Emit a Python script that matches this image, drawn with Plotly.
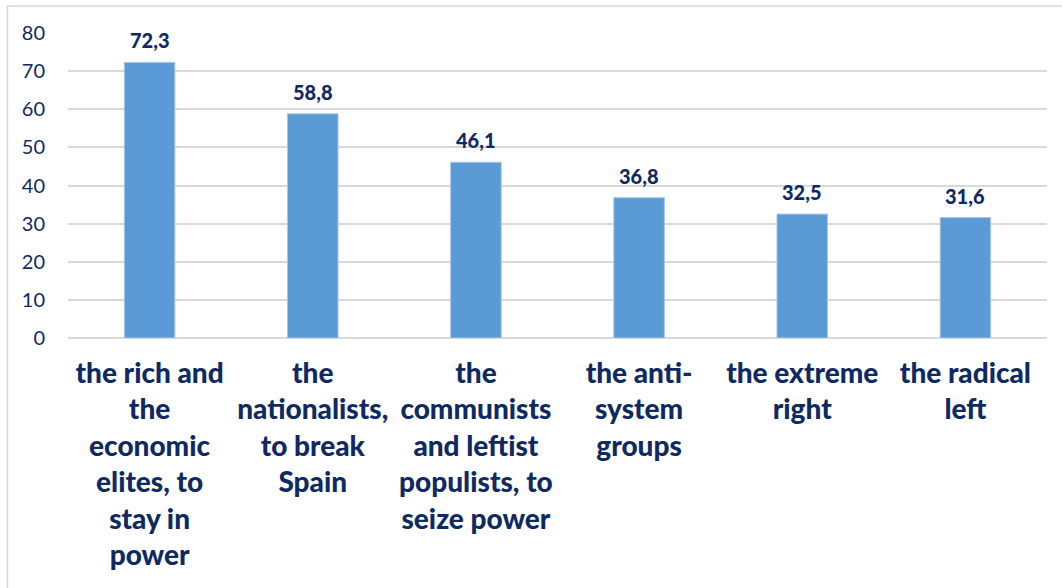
import plotly.graph_objects as go

# Category labels (wrapped as displayed) and percentage values
categories = [
    "the rich and<br>the<br>economic<br>elites, to<br>stay in<br>power",
    "the<br>nationalists,<br>to break<br>Spain",
    "the<br>communists<br>and leftist<br>populists, to<br>seize power",
    "the anti-<br>system<br>groups",
    "the extreme<br>right",
    "the radical<br>left",
]
values = [72.3, 58.8, 46.1, 36.8, 32.5, 31.6]
y_ticks = [0, 10, 20, 30, 40, 50, 60, 70, 80]

NAVY = "#0f2a62"
BAR = "#5b9bd5"
GRID = "#d9d9d9"
FONT = "Lato"

fig = go.Figure(
    go.Bar(
        x=categories,
        y=values,
        marker=dict(color=BAR, line=dict(color="#a9c8ea", width=1)),
        width=0.31,
        hoverinfo="skip",
    )
)

# Value labels above each bar
for cat, val in zip(categories, values):
    fig.add_annotation(
        x=cat, y=val, text=f"{val:.1f}".replace(".", ","),
        showarrow=False, yanchor="bottom", yshift=8,
        font=dict(family=FONT, size=20, color=NAVY, weight=900),
    )

# Outer chart frame
fig.add_shape(
    type="rect", xref="paper", yref="paper",
    x0=-0.0618, x1=1.02, y0=-0.9, y1=1.0885,
    line=dict(color=GRID, width=1.5), layer="below",
)

fig.update_layout(
    width=1062, height=588,
    margin=dict(l=68, r=15, t=33, b=250),
    paper_bgcolor="white", plot_bgcolor="white",
    showlegend=False,
    font=dict(family=FONT, color=NAVY),
)
fig.update_yaxes(
    range=[0, 80], tickvals=y_ticks,
    showgrid=True, gridcolor=GRID, gridwidth=1.5,
    zeroline=True, zerolinecolor=GRID, zerolinewidth=1.5,
    showline=False, ticks="",
    tickfont=dict(family=FONT, size=20, color=NAVY),
    ticklabelstandoff=22,
)
fig.update_xaxes(
    showgrid=False, showline=False, ticks="",
    tickfont=dict(family=FONT, size=28, color=NAVY, weight=900),
    ticklabelstandoff=16,
    tickangle=0,
)

fig.write_html("out.html")
